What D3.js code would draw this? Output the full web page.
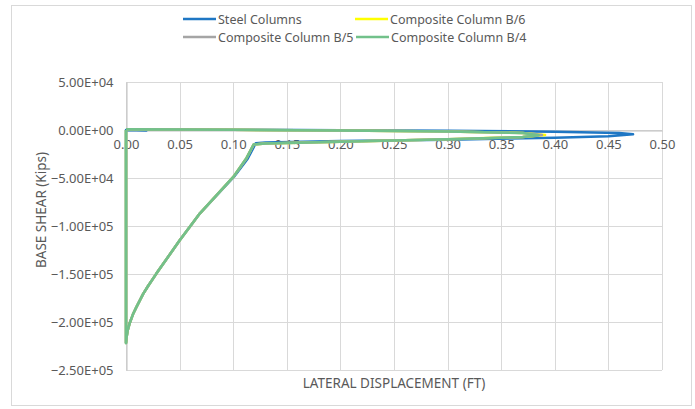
<!DOCTYPE html>
<html>
<head>
<meta charset="utf-8">
<script src="https://cdn.jsdelivr.net/npm/d3@7"></script>
<style>
  body { margin: 0; background: #fff; }
  text { font-family: "Noto Sans", "DejaVu Sans", sans-serif; fill: #595959; }
</style>
</head>
<body>
<div id="chart"></div>
<script>
// series data (displacement in ft, base shear in kips)
let steelX = [0, 0.019, 0, 0, 0.0004, 0.0015, 0.0035, 0.0065, 0.0097, 0.0159, 0.0206, 0.0285, 0.0503, 0.069, 0.1008, 0.1135, 0.121, 0.13, 0.2, 0.3, 0.4, 0.45, 0.473, 0.46, 0.4, 0.3, 0.2, 0.1, 0];
let steelY = [0, -500, 0, -222000, -217000, -209000, -201000, -192000, -184500, -171000, -162500, -149300, -114600, -86800, -48600, -30000, -13800, -13000, -11500, -10200, -8000, -6500, -4500, -3000, -1800, -900, -200, 300, 800];

let b6X = [0, 0, 0.0004, 0.0015, 0.0035, 0.0065, 0.0097, 0.0159, 0.0206, 0.0285, 0.0503, 0.069, 0.1003, 0.112, 0.119, 0.13, 0.2, 0.3, 0.37, 0.391, 0.37, 0.3, 0.2, 0.1, 0];
let b6Y = [0, -222000, -217000, -209000, -201000, -192000, -184500, -171000, -162500, -149300, -114600, -86800, -48600, -30000, -15200, -14000, -12200, -9600, -7200, -5200, -3000, -1500, -500, 200, 800];

let b5X = [0, 0, 0.0004, 0.0015, 0.0035, 0.0065, 0.0097, 0.0159, 0.0206, 0.0285, 0.0503, 0.069, 0.1003, 0.112, 0.119, 0.13, 0.2, 0.3, 0.37, 0.388, 0.37, 0.3, 0.2, 0.1, 0];
let b5Y = [0, -222000, -217000, -209000, -201000, -192000, -184500, -171000, -162500, -149300, -114600, -86800, -48600, -30000, -15200, -14000, -12200, -9700, -7300, -5300, -3100, -1600, -500, 200, 800];

let b4X = [0, 0, 0.0004, 0.0015, 0.0035, 0.0065, 0.0097, 0.0159, 0.0206, 0.0285, 0.0503, 0.069, 0.1003, 0.112, 0.119, 0.13, 0.2, 0.3, 0.37, 0.385, 0.37, 0.3, 0.2, 0.1, 0];
let b4Y = [0, -222000, -217000, -209000, -201000, -192000, -184500, -171000, -162500, -149300, -114600, -86800, -48600, -30000, -15200, -14000, -12200, -9700, -7400, -5400, -3200, -1600, -500, 200, 800];

let seriesNames = ["Steel Columns", "Composite Column B/6", "Composite Column B/5", "Composite Column B/4"];
let seriesColors = ["#1f77c4", "#ffff00", "#a5a5a5", "#72c18a"];

let xTicks = [0, 0.05, 0.1, 0.15, 0.2, 0.25, 0.3, 0.35, 0.4, 0.45, 0.5];
let yTicks = [50000, 0, -50000, -100000, -150000, -200000, -250000];

let W = 695, H = 409;
let margin = { top: 82, left: 126, right: 33, bottom: 39 },
  width = W - margin.left - margin.right,
  height = H - margin.top - margin.bottom;

let svg = d3.select('#chart')
  .append('svg')
  .attr('width', W)
  .attr('height', H);

// chart border
svg.append('rect')
  .attr('x', 11.5).attr('y', 5.5)
  .attr('width', 680).attr('height', 400)
  .attr('fill', 'none')
  .attr('stroke', '#d9d9d9');

let g = svg.append('g').attr('transform', 'translate(' + margin.left + ',' + margin.top + ')');

let x = d3.scaleLinear().domain([0, 0.5]).range([0, width]);
let y = d3.scaleLinear().domain([-250000, 50000]).range([height, 0]);

// excel-like scientific format, e.g. -5.00E+04
function sci(v) {
  let s = d3.format('.2e')(v).toUpperCase();
  return s.replace(/E([+-])(\d)$/, 'E$10$2');
}

// grid
g.selectAll('.vgrid').data(xTicks).enter().append('line')
  .attr('x1', d => Math.round(x(d)) + 0.5).attr('x2', d => Math.round(x(d)) + 0.5)
  .attr('y1', 0).attr('y2', height)
  .attr('stroke', '#d9d9d9');
g.selectAll('.hgrid').data(yTicks).enter().append('line')
  .attr('x1', 0).attr('x2', width)
  .attr('y1', d => Math.round(y(d)) + 0.5).attr('y2', d => Math.round(y(d)) + 0.5)
  .attr('stroke', '#d9d9d9');

// axes (x axis crosses at zero)
let xAxis = g.append('g')
  .attr('transform', 'translate(0,' + (Math.round(y(0)) + 0.5) + ')')
  .call(d3.axisBottom(x).tickValues(xTicks).tickFormat(d3.format('.2f')).tickSize(0).tickPadding(9));
xAxis.select('.domain').attr('stroke', '#bfbfbf');
xAxis.selectAll('text').style('font-size', '13px').attr('fill', '#595959');

let yAxis = g.append('g')
  .attr('transform', 'translate(0.5,0)')
  .call(d3.axisLeft(y).tickValues(yTicks).tickFormat(sci).tickSize(0).tickPadding(13));
yAxis.select('.domain').attr('stroke', '#bfbfbf');
yAxis.selectAll('text').style('font-size', '13px').attr('fill', '#595959');

// series
let line = d3.line().x(d => x(d[0])).y(d => y(d[1]));
let allX = [steelX, b6X, b5X, b4X], allY = [steelY, b6Y, b5Y, b4Y];
allX.forEach(function (xs, i) {
  let pts = xs.map((v, j) => [v, allY[i][j]]);
  g.append('path')
    .datum(pts)
    .attr('d', line)
    .attr('fill', 'none')
    .attr('stroke', seriesColors[i])
    .attr('stroke-width', 2.5)
    .attr('stroke-linejoin', 'round');
});

// axis titles
svg.append('text')
  .attr('x', margin.left + width / 2).attr('y', 388)
  .attr('text-anchor', 'middle')
  .style('font-size', '13.5px')
  .text('LATERAL DISPLACEMENT (FT)');
svg.append('text')
  .attr('transform', 'translate(46,210) rotate(-90)')
  .attr('text-anchor', 'middle')
  .style('font-size', '13.5px')
  .text('BASE SHEAR (Kips)');

// legend
let legendPos = [[183, 19], [355, 19], [183, 37], [356, 37]];
seriesNames.forEach(function (name, i) {
  let p = legendPos[i];
  svg.append('line')
    .attr('x1', p[0]).attr('x2', p[0] + 33)
    .attr('y1', p[1]).attr('y2', p[1])
    .attr('stroke', seriesColors[i]).attr('stroke-width', 2.5);
  svg.append('text')
    .attr('x', p[0] + 35).attr('y', p[1] + 4.5)
    .style('font-size', '12.5px')
    .text(name);
});
</script>
</body>
</html>
